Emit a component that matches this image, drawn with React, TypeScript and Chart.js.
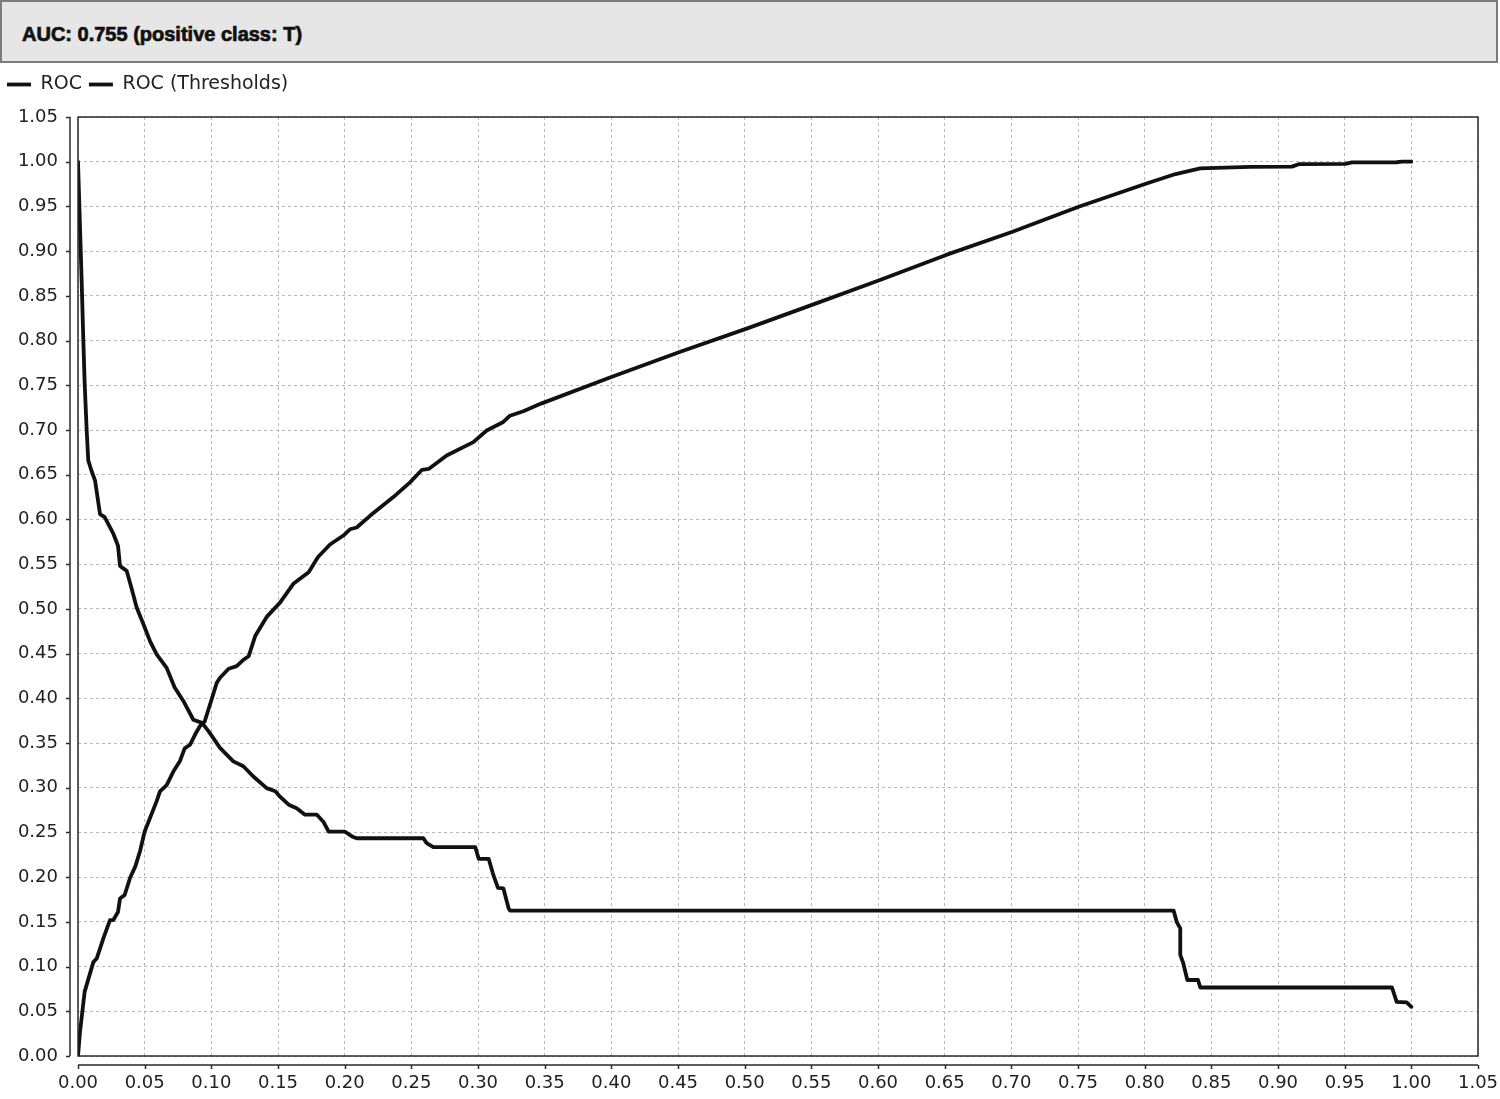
import React, { useEffect, useRef } from 'react';
import { Chart, registerables } from 'chart.js';

Chart.register(...registerables);

const TITLE_TEXT = 'AUC: 0.755 (positive class: T)';
const SERIES_NAMES = ['ROC', 'ROC (Thresholds)'];

const AXIS_MIN = 0;
const AXIS_MAX = 1.05;
const AXIS_STEP = 0.05;

// ROC curve: false positive rate vs true positive rate
const rocFpr = [
  0, 0.0015, 0.005, 0.0115, 0.014, 0.0165, 0.019, 0.024, 0.0265, 0.03, 0.0315, 0.035, 0.039, 0.043,
  0.0465, 0.05, 0.059, 0.0615, 0.0665, 0.0715, 0.0765, 0.08, 0.084, 0.088, 0.0915, 0.095, 0.099,
  0.104, 0.1065, 0.113, 0.119, 0.124, 0.128, 0.133, 0.1415, 0.1515, 0.1615, 0.173, 0.18, 0.189,
  0.199, 0.204, 0.209, 0.219, 0.2365, 0.249, 0.258, 0.263, 0.2765, 0.2965, 0.3065, 0.319, 0.324,
  0.334, 0.3473, 0.4, 0.4512, 0.5015, 0.55, 0.601, 0.6506, 0.7009, 0.7505, 0.8014, 0.8232, 0.8416,
  0.879, 0.9105, 0.9155, 0.9505, 0.9555, 0.989, 0.993, 1.0,
];
const rocTpr = [
  0, 0.027, 0.072, 0.105, 0.109, 0.12, 0.1315, 0.152, 0.152, 0.161, 0.176, 0.18, 0.199, 0.212,
  0.229, 0.251, 0.285, 0.296, 0.303, 0.318, 0.33, 0.344, 0.348, 0.36, 0.369, 0.374, 0.393,
  0.417, 0.423, 0.433, 0.436, 0.443, 0.447, 0.47, 0.491, 0.507, 0.528, 0.541, 0.558, 0.572,
  0.582, 0.589, 0.591, 0.604, 0.625, 0.6415, 0.6555, 0.6565, 0.6715, 0.6865, 0.6995, 0.709, 0.716,
  0.721, 0.7295, 0.7593, 0.7873, 0.8134, 0.8396, 0.8675, 0.8955, 0.9216, 0.9496, 0.9757, 0.9862, 0.9925,
  0.9942, 0.9945, 0.9972, 0.9975, 0.9992, 0.9994, 1.0, 1.0,
];

// ROC (Thresholds): false positive rate vs threshold
const thrFpr = [
  0, 0.0028, 0.004, 0.005, 0.0065, 0.0077, 0.01, 0.0128, 0.0165, 0.02, 0.0265, 0.03, 0.0315, 0.0365,
  0.04, 0.044, 0.049, 0.054, 0.059, 0.0665, 0.0725, 0.079, 0.0865, 0.093, 0.098, 0.1065, 0.1165,
  0.124, 0.1315, 0.1415, 0.148, 0.1515, 0.158, 0.164, 0.17, 0.179, 0.184, 0.188, 0.2, 0.2055, 0.209,
  0.259, 0.2615, 0.2665, 0.298, 0.3005, 0.308, 0.3115, 0.315, 0.319, 0.323, 0.324, 0.8217, 0.824,
  0.8267, 0.8267, 0.829, 0.832, 0.84, 0.8417, 0.9855, 0.989, 0.9965, 1.0,
];
const thrValue = [
  1.0, 0.864, 0.8, 0.752, 0.7, 0.666, 0.655, 0.6435, 0.606, 0.6025, 0.584, 0.5705, 0.548, 0.5425,
  0.524, 0.5015, 0.483, 0.464, 0.449, 0.434, 0.412, 0.397, 0.376, 0.3725, 0.363, 0.3445, 0.3295,
  0.324, 0.3125, 0.2995, 0.296, 0.29, 0.281, 0.277, 0.27, 0.27, 0.262, 0.251, 0.251, 0.2455, 0.2435,
  0.2435, 0.238, 0.2335, 0.2335, 0.2205, 0.2205, 0.2025, 0.188, 0.1875, 0.165, 0.1626, 0.1626, 0.15,
  0.1427, 0.113, 0.1035, 0.085, 0.085, 0.0766, 0.0766, 0.0605, 0.06, 0.055,
];

const toPoints = (xs: number[], ys: number[]) => xs.map((x, i) => ({ x, y: ys[i] }));

const FONT_FAMILY = '"DejaVu Sans", Verdana, sans-serif';
const TITLE_H = 63;
const CANVAS_H = 1099 - TITLE_H;

const framePlugin = {
  id: 'frame',
  beforeInit(chart: any) {
    const legend = chart.legend;
    if (legend) {
      const origFit = legend.fit;
      legend.fit = function () {
        origFit.call(this);
        this.height += 13;
      };
    }
  },
  afterDraw(chart: any) {
    const { ctx, chartArea: a, scales } = chart;
    ctx.save();
    ctx.strokeStyle = '#2a2a2a';
    ctx.lineWidth = 1.5;
    ctx.setLineDash([]);
    ctx.strokeRect(a.left, a.top, a.right - a.left, a.bottom - a.top);
    ctx.beginPath();
    const ax = a.left - 8;
    ctx.moveTo(ax, a.top);
    ctx.lineTo(ax, a.bottom);
    scales.y.ticks.forEach((t: any) => {
      const py = Math.round(scales.y.getPixelForValue(t.value)) + 0.5;
      ctx.moveTo(ax, py);
      ctx.lineTo(ax - 4, py);
    });
    const ay = a.bottom + 9;
    ctx.moveTo(a.left, ay);
    ctx.lineTo(a.right, ay);
    scales.x.ticks.forEach((t: any) => {
      const px = Math.round(scales.x.getPixelForValue(t.value)) + 0.5;
      ctx.moveTo(px, ay);
      ctx.lineTo(px, ay + 4);
    });
    ctx.stroke();
    ctx.restore();
  },
};

export default function App() {
  const canvasRef = useRef<HTMLCanvasElement | null>(null);

  useEffect(() => {
    document.body.style.margin = '0';
    const canvas = canvasRef.current;
    if (!canvas) return;
    const axisCommon = {
      type: 'linear' as const,
      min: AXIS_MIN,
      max: AXIS_MAX,
      grid: {
        color: '#b8b8b8',
        lineWidth: 1,
        drawTicks: false,
      },
      border: { display: false, dash: [3, 3] },
    };
    const chart = new Chart(canvas, {
      type: 'line',
      data: {
        datasets: [
          {
            label: SERIES_NAMES[0],
            data: toPoints(rocFpr, rocTpr),
            borderColor: '#111',
            backgroundColor: '#111',
            borderWidth: 3.8,
            pointRadius: 0,
            tension: 0,
            fill: false,
            borderJoinStyle: 'round',
            borderCapStyle: 'round',
          },
          {
            label: SERIES_NAMES[1],
            data: toPoints(thrFpr, thrValue),
            borderColor: '#111',
            backgroundColor: '#111',
            borderWidth: 3.8,
            pointRadius: 0,
            tension: 0,
            fill: false,
            borderJoinStyle: 'round',
            borderCapStyle: 'round',
          },
        ],
      },
      options: {
        animation: false,
        responsive: true,
        maintainAspectRatio: false,
        layout: { padding: { top: 5, right: 0, bottom: 0, left: 0 } },
        plugins: {
          title: { display: false },
          tooltip: { enabled: false },
          legend: {
            display: true,
            position: 'top',
            align: 'start',
            labels: {
              usePointStyle: true,
              pointStyle: 'line',
              pointStyleWidth: 24,
              padding: 7,
              color: '#222',
              font: { family: FONT_FAMILY, size: 19 },
            },
          },
        },
        scales: {
          x: {
            ...axisCommon,
            position: 'bottom',
            afterFit: (s: any) => {
              s.height = 43;
              s.paddingRight = 22;
              s.paddingLeft = 0;
            },
            ticks: {
              stepSize: AXIS_STEP,
              autoSkip: false,
              maxRotation: 0,
              padding: 17,
              color: '#222',
              font: { family: FONT_FAMILY, size: 18 },
              callback: (v: any) => Number(v).toFixed(2),
            },
          },
          y: {
            ...axisCommon,
            position: 'left',
            afterFit: (s: any) => {
              s.width = 78;
            },
            ticks: {
              stepSize: AXIS_STEP,
              autoSkip: false,
              padding: 20,
              color: '#222',
              font: { family: FONT_FAMILY, size: 18 },
              callback: (v: any) => Number(v).toFixed(2),
            },
          },
        },
      } as any,
      plugins: [framePlugin],
    });
    return () => chart.destroy();
  }, []);

  return (
    <div style={{ width: 1500, height: 1099, background: '#fff', position: 'relative' }}>
      <div
        style={{
          boxSizing: 'border-box',
          width: 1498,
          height: TITLE_H,
          background: '#e6e6e6',
          border: '2px solid #7c7c7c',
          display: 'flex',
          alignItems: 'center',
          paddingLeft: 20,
          paddingTop: 6,
          fontFamily: '"Liberation Sans", Arial, sans-serif',
          fontWeight: 700,
          fontSize: 20,
          color: '#111',
          WebkitTextStroke: '0.7px #111',
        }}
      >
        {TITLE_TEXT}
      </div>
      <div style={{ position: 'relative', width: 1500, height: CANVAS_H }}>
        <canvas ref={canvasRef} />
      </div>
    </div>
  );
}
